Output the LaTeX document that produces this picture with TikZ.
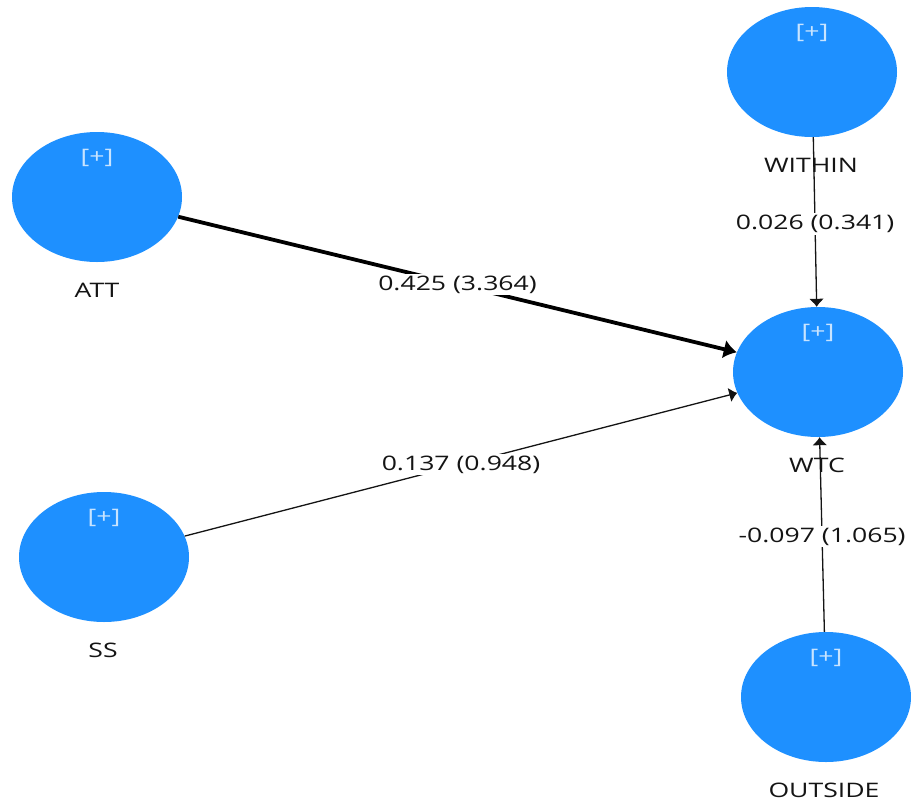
\documentclass[tikz,border=0pt]{standalone}
\usepackage{fontspec}
\setmainfont{Open Sans}[FakeStretch=1.33]
\usetikzlibrary{shapes.geometric,arrows.meta}
\definecolor{lvblue}{RGB}{30,144,255}
\definecolor{plusc}{RGB}{200,228,255}
\definecolor{txt}{RGB}{20,20,20}
\tikzset{
  lv/.style={ellipse,fill=lvblue,draw=none,minimum width=170pt,minimum height=130pt,inner sep=0pt},
  plussign/.style={text=plusc,font=\fontsize{20}{24}\selectfont,inner sep=0pt},
  lvname/.style={text=txt,font=\fontsize{20}{24}\selectfont,inner sep=0pt},
  coef/.style={fill=white,text=txt,font=\fontsize{20}{24}\selectfont,inner sep=2pt},
  thinpath/.style={draw=txt,line width=1.3pt,-{Latex[length=8pt,width=15pt]}},
  thickpath/.style={draw=black,line width=3.8pt,-{Latex[length=13pt,width=19pt]}}
}
\begin{document}
\begin{tikzpicture}[x=1pt,y=-1pt]
\useasboundingbox (0,0) rectangle (911,804);
\node[lv] (ATT) at (97,197) {};
\node[lv] (WITHIN) at (812,72) {};
\node[lv] (WTC) at (818,372) {};
\node[lv] (SS) at (104,557) {};
\node[lv] (OUTSIDE) at (826,697) {};
\foreach \n in {ATT,WITHIN,WTC,SS,OUTSIDE}{
  \node[plussign] (\n-plus) at ([yshift=-26pt]\n.north) {[+]};
}
\node[lvname] (ATT-name) at (97,290) {ATT};
\node[lvname] (SS-name) at (103,650) {SS};
\draw[thickpath] (ATT) -- node[coef,pos=0.5] (c1) {0.425 (3.364)} (WTC);
\draw[thinpath] (SS) -- node[coef,pos=0.5] (c2) {0.137 (0.948)} (WTC);
\draw[thinpath] (WITHIN) -- node[coef,pos=0.51] (c3) {0.026 (0.341)} (WTC);
\draw[thinpath] (OUTSIDE) -- node[coef,pos=0.49] (c4) {-0.097 (1.065)} (WTC);
\node[lvname] (WITHIN-name) at (811,165) {WITHIN};
\node[lvname] (WTC-name) at (817,465) {WTC};
\node[lvname] (OUTSIDE-name) at (824,790) {OUTSIDE};
\end{tikzpicture}
\end{document}
